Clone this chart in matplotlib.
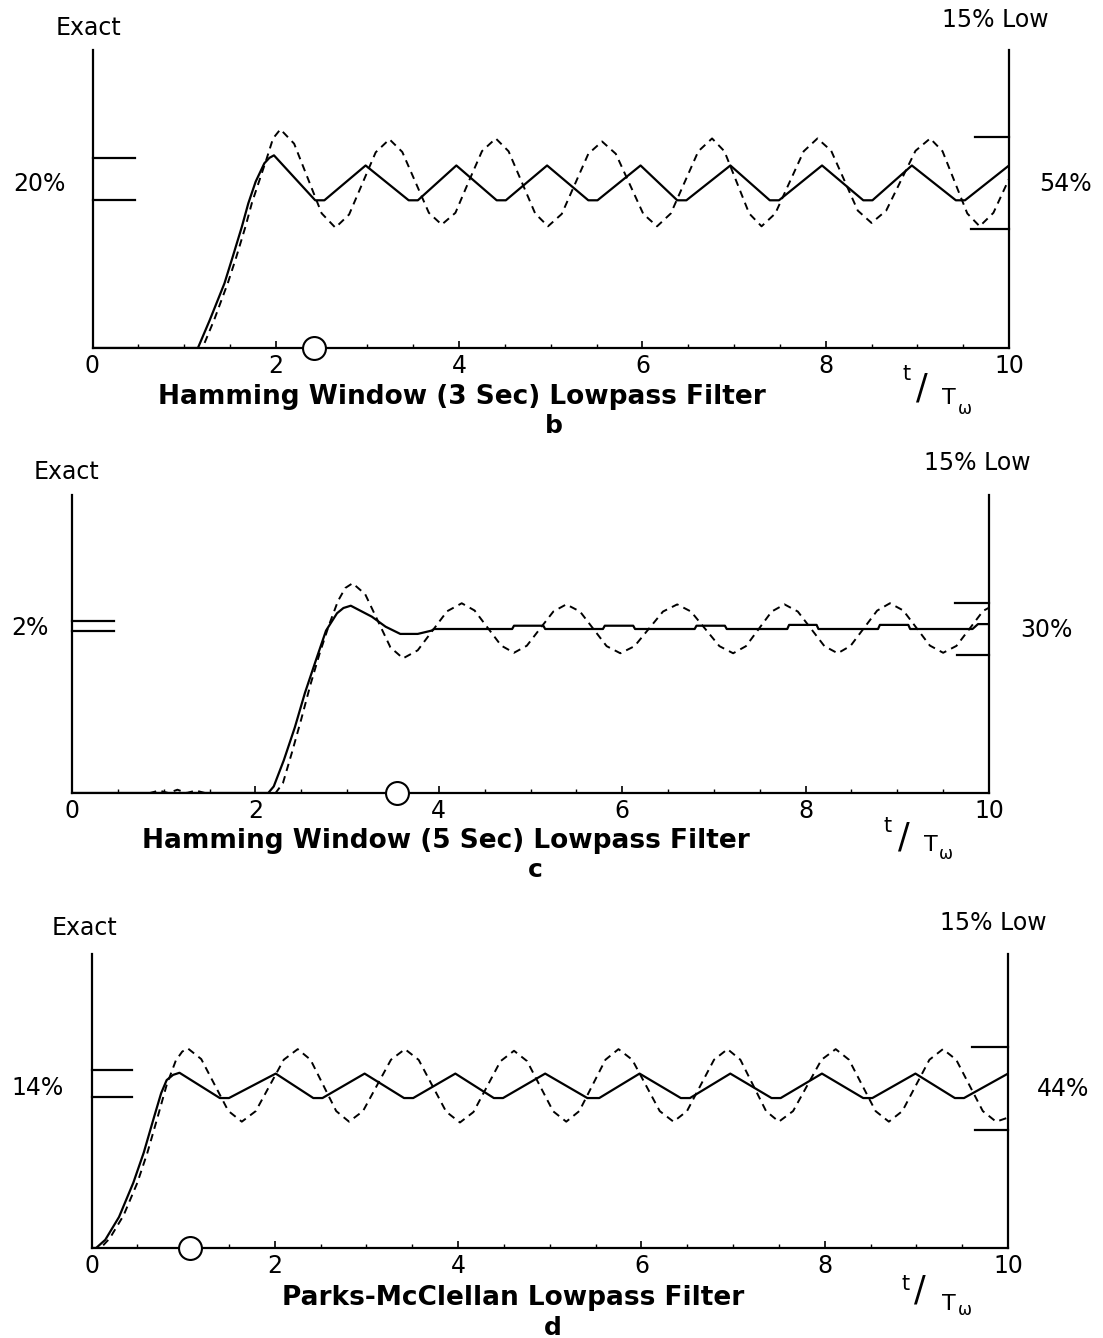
import matplotlib
matplotlib.use("Agg")
import matplotlib.pyplot as plt
from matplotlib.ticker import MultipleLocator

plt.rcParams['font.family'] = ['DejaVu Sans']

W, H = 1103, 1338

# ---------------- Panel b: Hamming window (3 s) ----------------
b_exact_t = [0, 1.15, 1.28, 1.44, 1.53, 1.63, 1.70, 1.78, 1.875, 1.93, 1.98,
             2.43, 2.53, 2.98, 3.45, 3.55, 3.97, 4.41, 4.51, 4.96,
             5.41, 5.51, 5.98, 6.38, 6.48, 6.96, 7.39, 7.49, 7.96,
             8.41, 8.51, 8.94, 9.42, 9.52, 10.0]
b_exact_y = [0, 0, 0.166, 0.383, 0.54, 0.718, 0.856, 0.984, 1.093, 1.125, 1.14,
             0.874, 0.874, 1.08, 0.874, 0.874, 1.08, 0.874, 0.874, 1.08,
             0.874, 0.874, 1.08, 0.874, 0.874, 1.08, 0.874, 0.874, 1.08,
             0.874, 0.874, 1.08, 0.874, 0.874, 1.08]

b_low_t = [0, 1.20, 1.33, 1.48, 1.57, 1.67, 1.74, 1.82, 1.90, 1.97, 2.05,
           2.20, 2.35, 2.50, 2.65, 2.80, 2.945, 3.09, 3.24,
           3.38, 3.525, 3.67, 3.81, 3.96, 4.105, 4.25, 4.40,
           4.54, 4.685, 4.83, 4.97, 5.12, 5.265, 5.41, 5.56,
           5.71, 5.86, 6.01, 6.16, 6.31, 6.46, 6.61, 6.76,
           6.895, 7.03, 7.165, 7.30, 7.45, 7.605, 7.76, 7.91,
           8.06, 8.205, 8.35, 8.50, 8.66, 8.82, 8.98, 9.14,
           9.275, 9.41, 9.545, 9.68, 9.83, 10.0]
b_low_y = [0, 0, 0.17, 0.39, 0.54, 0.72, 0.86, 0.99, 1.12, 1.24, 1.294,
           1.209, 1.003, 0.797, 0.712, 0.79, 0.974, 1.158, 1.235,
           1.16, 0.98, 0.80, 0.73, 0.80, 0.985, 1.165, 1.24,
           1.164, 0.98, 0.796, 0.72, 0.793, 0.971, 1.149, 1.222,
           1.149, 0.971, 0.793, 0.72, 0.796, 0.98, 1.164, 1.24,
           1.164, 0.98, 0.796, 0.72, 0.796, 0.98, 1.164, 1.24,
           1.167, 0.99, 0.813, 0.74, 0.813, 0.99, 1.167, 1.24,
           1.164, 0.98, 0.796, 0.72, 0.80, 1.0]

# ---------------- Panel c: Hamming window (5 s) ----------------
c_exact_t = [0, 2.14, 2.20, 2.31, 2.43, 2.54, 2.66, 2.77, 2.89, 2.96, 3.04,
             3.27, 3.42, 3.58, 3.77, 3.92, 3.95,
             4.80, 4.82, 5.14, 5.16, 5.79, 5.81, 6.12, 6.14,
             6.79, 6.81, 7.12, 7.14, 7.80, 7.82, 8.12, 8.14,
             8.79, 8.81, 9.12, 9.14, 9.82, 9.88, 10.0]
c_exact_y = [0, 0, 0.04, 0.20, 0.40, 0.61, 0.81, 0.99, 1.096, 1.128, 1.142,
             1.075, 1.014, 0.97, 0.97, 0.99, 1.0,
             1.0, 1.02, 1.02, 1.0, 1.0, 1.02, 1.02, 1.0,
             1.0, 1.02, 1.02, 1.0, 1.0, 1.025, 1.025, 1.0,
             1.0, 1.025, 1.025, 1.0, 1.0, 1.03, 1.03]

c_low_t = [0, 0.85, 0.95, 1.05, 1.15, 1.25, 1.35, 1.45, 2.22,
           2.30, 2.40, 2.50, 2.60, 2.70, 2.80, 2.90, 2.98, 3.06,
           3.1975, 3.335, 3.4725, 3.61, 3.77, 3.93, 4.09, 4.25,
           4.39, 4.535, 4.68, 4.82, 4.96, 5.105, 5.25, 5.39,
           5.54, 5.685, 5.83, 5.98, 6.135, 6.29, 6.445, 6.60,
           6.75, 6.905, 7.06, 7.21, 7.35, 7.49, 7.63, 7.77,
           7.915, 8.06, 8.205, 8.35, 8.49, 8.635, 8.78, 8.92,
           9.065, 9.21, 9.355, 9.50, 9.645, 9.79, 9.935, 10.0]
c_low_y = [0, 0, 0.015, 0.0, 0.02, 0.0, 0.015, 0.0, 0,
           0.06, 0.25, 0.45, 0.66, 0.85, 1.02, 1.17, 1.25, 1.279,
           1.212, 1.05, 0.888, 0.821, 0.87, 0.989, 1.108, 1.157,
           1.113, 1.006, 0.899, 0.855, 0.898, 1.003, 1.107, 1.15,
           1.1065, 1.001, 0.8955, 0.852, 0.8955, 1.001, 1.1065, 1.15,
           1.1065, 1.001, 0.8955, 0.852, 0.8955, 1.001, 1.1065, 1.15,
           1.1065, 1.001, 0.8955, 0.852, 0.897, 1.0045, 1.112, 1.157,
           1.113, 1.006, 0.899, 0.855, 0.897, 1.003, 1.11, 1.13]

# ---------------- Panel d: Parks-McClellan ----------------
d_exact_t = [0, 0.05, 0.15, 0.30, 0.456, 0.57, 0.686, 0.76, 0.82, 0.89, 0.96,
             1.40, 1.50, 2.01, 2.42, 2.52, 2.98, 3.41, 3.51, 3.97,
             4.39, 4.49, 4.95, 5.41, 5.54, 5.98, 6.43, 6.53, 6.97,
             7.42, 7.52, 7.97, 8.42, 8.52, 8.99, 9.42, 9.52, 10.0]
d_exact_y = [0, 0, 0.05, 0.19, 0.40, 0.585, 0.81, 0.95, 1.03, 1.062, 1.075,
             0.92, 0.92, 1.07, 0.92, 0.92, 1.07, 0.92, 0.92, 1.07,
             0.92, 0.92, 1.07, 0.92, 0.92, 1.07, 0.92, 0.92, 1.07,
             0.92, 0.92, 1.07, 0.92, 0.92, 1.07, 0.92, 0.92, 1.07]

d_low_t = [0, 0.10, 0.20, 0.35, 0.50, 0.61, 0.72, 0.82, 0.92, 0.99, 1.05,
           1.1975, 1.345, 1.4925, 1.64, 1.7925, 1.945, 2.0975, 2.25,
           2.39, 2.53, 2.67, 2.81, 2.9625, 3.115, 3.2675, 3.42,
           3.57, 3.72, 3.87, 4.02, 4.1675, 4.315, 4.4625, 4.61,
           4.7525, 4.895, 5.0375, 5.18, 5.3225, 5.465, 5.6075, 5.75,
           5.90, 6.05, 6.20, 6.35, 6.4975, 6.645, 6.7925, 6.94,
           7.08, 7.22, 7.36, 7.50, 7.655, 7.81, 7.965, 8.12,
           8.265, 8.41, 8.555, 8.70, 8.8475, 8.995, 9.1425, 9.29,
           9.435, 9.58, 9.725, 9.87, 10.0]
d_low_y = [0, 0, 0.06, 0.20, 0.40, 0.585, 0.80, 1.0, 1.15, 1.205, 1.225,
           1.159, 1.0, 0.841, 0.775, 0.84, 0.9975, 1.155, 1.22,
           1.155, 0.9975, 0.84, 0.775, 0.84, 0.9975, 1.155, 1.22,
           1.154, 0.995, 0.836, 0.77, 0.834, 0.99, 1.146, 1.21,
           1.1465, 0.9925, 0.8385, 0.775, 0.84, 0.9975, 1.155, 1.22,
           1.155, 0.9975, 0.84, 0.775, 0.84, 0.9975, 1.155, 1.22,
           1.155, 0.9975, 0.84, 0.775, 0.84, 0.9975, 1.155, 1.22,
           1.155, 0.9975, 0.84, 0.775, 0.84, 0.9975, 1.155, 1.22,
           1.155, 0.9975, 0.84, 0.775, 0.80]

# Range brackets (left: exact, right: 15% low) and circle positions
b_left_bars = [1.124, 0.876]
b_right_bars = [(9.63, 1.249), (9.59, 0.702)]
c_left_bars = [1.049, 0.988]
c_right_bars = [(9.63, 1.16), (9.65, 0.841)]
d_left_bars = [1.092, 0.925]
d_right_bars = [(9.61, 1.235), (9.64, 0.724)]
circle_t = {'b': 2.42, 'c': 3.54, 'd': 1.07}

titles = {'b': "Hamming Window (3 Sec) Lowpass Filter",
          'c': "Hamming Window (5 Sec) Lowpass Filter",
          'd': "Parks-McClellan Lowpass Filter"}
left_pct = {'b': "20%", 'c': "2%", 'd': "14%"}
right_pct = {'b': "54%", 'c': "30%", 'd': "44%"}
xticks = [0, 2, 4, 6, 8, 10]

fig = plt.figure(figsize=(W / 100, H / 100), dpi=100)


def fpos(x, y):
    return x / W, 1 - y / H


def make_axes(left, right, top, bottom, ytop):
    ax = fig.add_axes([left / W, 1 - bottom / H, (right - left) / W, (bottom - top) / H])
    ax.set_xlim(0, 10)
    ax.set_ylim(0, ytop)
    ax.set_yticks([])
    ax.set_xticks(xticks)
    ax.set_xticklabels([str(v) for v in xticks])
    ax.xaxis.set_minor_locator(MultipleLocator(0.5))
    ax.tick_params(axis='x', which='major', direction='in', length=5, width=1.2,
                   labelsize=17, pad=4)
    ax.tick_params(axis='x', which='minor', direction='in', length=3, width=1.0)
    ax.spines['top'].set_visible(False)
    for s in ('left', 'right', 'bottom'):
        ax.spines[s].set_linewidth(1.6)
    return ax


def draw_panel(ax, te, ye, tl, yl, left_bars, right_bars, tc, left_len):
    ax.plot(te, ye, color='black', lw=1.6, solid_joinstyle='round')
    ax.plot(tl, yl, color='black', lw=1.4, linestyle=(0, (3.8, 2.8)))
    for y in left_bars:
        ax.plot([0, left_len], [y, y], color='black', lw=1.6, clip_on=False)
    for x0, y in right_bars:
        ax.plot([x0, 10], [y, y], color='black', lw=1.6, clip_on=False)
    ax.plot([tc], [0], marker='o', markersize=16.5, markerfacecolor='white',
            markeredgecolor='black', markeredgewidth=1.5, clip_on=False, zorder=5)


def tw_label(pt, pslash, pT, pw):
    fig.text(*fpos(*pt), "t", fontsize=15, ha='center', va='center')
    fig.text(*fpos(*pslash), "/", fontsize=25, ha='center', va='center')
    fig.text(*fpos(*pT), "T", fontsize=16, ha='center', va='center')
    fig.text(*fpos(*pw), "ω", fontsize=12, ha='center', va='center')


# Panel b
ax_b = make_axes(92.5, 1009, 50, 348, 298 / 169)
draw_panel(ax_b, b_exact_t, b_exact_y, b_low_t, b_low_y,
           b_left_bars, b_right_bars, circle_t['b'], 0.46)
fig.text(*fpos(88, 28), "Exact", fontsize=17, ha='center', va='center')
fig.text(*fpos(995, 20), "15% Low", fontsize=17, ha='center', va='center')
fig.text(*fpos(39, 184), left_pct['b'], fontsize=17, ha='center', va='center')
fig.text(*fpos(1065, 184), right_pct['b'], fontsize=17, ha='center', va='center')
fig.text(*fpos(462, 404), titles['b'], fontsize=19, fontweight='bold',
         ha='center', va='baseline')
fig.text(*fpos(554, 433), "b", fontsize=18, fontweight='bold', ha='center', va='baseline')
tw_label((907, 373.5), (922, 389), (949, 397.5), (965, 409))

# Panel c
ax_c = make_axes(72, 989, 495, 793, 298 / 164)
draw_panel(ax_c, c_exact_t, c_exact_y, c_low_t, c_low_y,
           c_left_bars, c_right_bars, circle_t['c'], 0.46)
fig.text(*fpos(67, 472), "Exact", fontsize=17, ha='center', va='center')
fig.text(*fpos(977, 463), "15% Low", fontsize=17, ha='center', va='center')
fig.text(*fpos(30, 628), left_pct['c'], fontsize=17, ha='center', va='center')
fig.text(*fpos(1046, 630), right_pct['c'], fontsize=17, ha='center', va='center')
fig.text(*fpos(446, 848), titles['c'], fontsize=19, fontweight='bold',
         ha='center', va='baseline')
fig.text(*fpos(535, 877), "c", fontsize=18, fontweight='bold', ha='center', va='baseline')
tw_label((887.5, 825.5), (904, 837.5), (931, 845), (946, 854))

# Panel d
ax_d = make_axes(91.5, 1008, 954, 1248, 294 / 163)
draw_panel(ax_d, d_exact_t, d_exact_y, d_low_t, d_low_y,
           d_left_bars, d_right_bars, circle_t['d'], 0.44)
fig.text(*fpos(85, 928), "Exact", fontsize=17, ha='center', va='center')
fig.text(*fpos(993, 923), "15% Low", fontsize=17, ha='center', va='center')
fig.text(*fpos(38, 1088), left_pct['d'], fontsize=17, ha='center', va='center')
fig.text(*fpos(1063, 1089), right_pct['d'], fontsize=17, ha='center', va='center')
fig.text(*fpos(513, 1305), titles['d'], fontsize=19, fontweight='bold',
         ha='center', va='baseline')
fig.text(*fpos(553, 1335), "d", fontsize=18, fontweight='bold', ha='center', va='baseline')
tw_label((905.5, 1283.5), (920, 1291), (949, 1303.5), (965, 1310))

fig.savefig("out.png", dpi=100)
